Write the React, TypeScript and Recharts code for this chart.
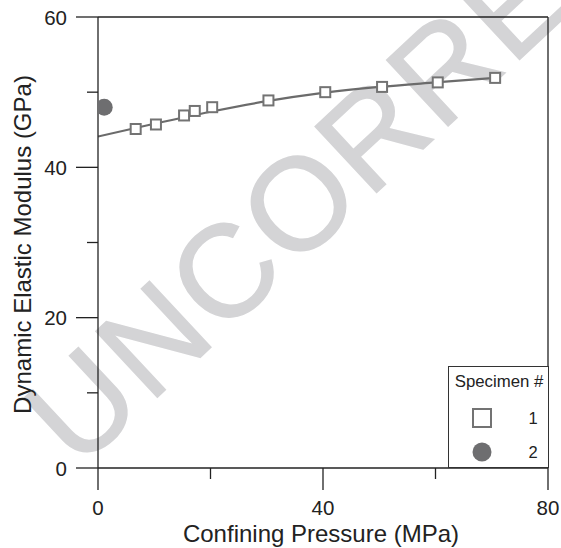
import React from 'react';
import { ComposedChart, Line, Scatter, XAxis, YAxis, Legend, ReferenceLine } from 'recharts';

// ---- data ----
const fitPressure = [0, 10, 20, 30, 40, 50, 60, 70.6];
const fitModulus = [44.1, 45.8, 47.4, 48.8, 49.9, 50.7, 51.3, 51.9];

const specimen1Pressure = [6.7, 10.3, 15.3, 17.2, 20.3, 30.3, 40.4, 50.5, 60.4, 70.6];
const specimen1Modulus = [45.1, 45.7, 46.9, 47.5, 48.0, 48.9, 50.0, 50.7, 51.3, 51.9];

const specimen2Pressure = [1.1];
const specimen2Modulus = [48.0];

const xTicks = [0, 20, 40, 60, 80];
const xLabeledTicks = [0, 40, 80];
const yTicks = [0, 10, 20, 30, 40, 50, 60];
const yLabeledTicks = [0, 20, 40, 60];

const specimenNames = ['1', '2'];
const legendTitle = 'Specimen #';
const xTitle = 'Confining Pressure (MPa)';
const yTitle = 'Dynamic Elastic Modulus (GPa)';
const watermarkText = 'UNCORRECTED PROOF';

// ---- derived tables ----
const fitData = fitPressure.map((p, i) => ({ p, e: fitModulus[i] }));
const spec1Data = specimen1Pressure.map((p, i) => ({ p, e: specimen1Modulus[i] }));
const spec2Data = specimen2Pressure.map((p, i) => ({ p, e: specimen2Modulus[i] }));

const FONT = '"Liberation Sans", Arial, Helvetica, sans-serif';
const AXIS = '#222';
const MARK = '#6e6e70';

const SquareShape = (props: any) => {
  const { cx, cy } = props;
  return <rect x={cx - 5} y={cy - 5} width={10} height={10} fill="#fff" stroke="#737373" strokeWidth={2} />;
};
const CircleShape = (props: any) => {
  const { cx, cy } = props;
  return <circle cx={cx} cy={cy} r={8.5} fill={MARK} />;
};

const XTick = (props: any) => {
  const { x, y, payload } = props;
  const v = payload.value;
  const major = xLabeledTicks.includes(v);
  return (
    <g>
      <line x1={x} y1={y} x2={x} y2={y + (major ? 22 : 11)} stroke={AXIS} strokeWidth={1.3} />
      {major && (
        <text x={x} y={y + 39} textAnchor="middle" dominantBaseline="central" fontSize={20.5} fill="#222" fontFamily={FONT}>
          {v}
        </text>
      )}
    </g>
  );
};

const YTick = (props: any) => {
  const { x, y, payload } = props;
  const v = payload.value;
  const major = yLabeledTicks.includes(v);
  return (
    <g>
      <line x1={x - (major ? 22 : 11)} y1={y} x2={x} y2={y} stroke={AXIS} strokeWidth={1.3} />
      {major && (
        <text x={x - 31} y={y} textAnchor="end" dominantBaseline="central" fontSize={20.5} fill="#222" fontFamily={FONT}>
          {v}
        </text>
      )}
    </g>
  );
};

const renderLegend = () => (
  <div style={{ width: 101, height: 102, boxSizing: 'border-box', border: '1.3px solid #333', background: '#fff' }}>
    <svg width={99} height={100} style={{ display: 'block' }}>
      <text x={50} y={14} textAnchor="middle" dominantBaseline="central" fontSize={16.8} fill="#222" fontFamily={FONT}>
        {legendTitle}
      </text>
      {specimenNames.map((name, i) => {
        const cy = 51 + i * 34;
        return (
          <g key={name}>
            {i === 0 ? (
              <rect x={24} y={cy - 9} width={18} height={18} fill="#fff" stroke="#737373" strokeWidth={2} />
            ) : (
              <circle cx={33} cy={cy} r={9.5} fill={MARK} />
            )}
            <text x={84} y={cy} textAnchor="middle" dominantBaseline="central" fontSize={16.5} fill="#222" fontFamily={FONT}>
              {name}
            </text>
          </g>
        );
      })}
    </svg>
  </div>
);

const YTitle = (props: any) => {
  const { viewBox } = props;
  const cx = viewBox.x + 22;
  const cy = viewBox.y + viewBox.height / 2 + 2;
  return (
    <text x={cx} y={cy} transform={`rotate(-90 ${cx} ${cy})`} textAnchor="middle" dominantBaseline="central" fontSize={24} fill="#222" fontFamily={FONT}>
      {yTitle}
    </text>
  );
};

const XTitle = (props: any) => {
  const { viewBox } = props;
  const cx = viewBox.x + viewBox.width / 2 - 2;
  const cy = viewBox.y + 65;
  return (
    <text x={cx} y={cy} textAnchor="middle" dominantBaseline="central" fontSize={24} fill="#222" fontFamily={FONT}>
      {xTitle}
    </text>
  );
};

export default function App() {
  return (
    <div style={{ position: 'absolute', left: 0, top: 0, width: 561, height: 548, background: '#fff' }}>
      <svg width={561} height={548} style={{ position: 'absolute', left: 0, top: 0 }}>
        <text
          x={78}
          y={471}
          transform="rotate(-43 78 471)"
          fontSize={131}
          fill="#d4d4d6"
          stroke="#d4d4d6"
          strokeWidth={1.5}
          letterSpacing={3}
          fontFamily={FONT}
        >
          {watermarkText}
        </text>
      </svg>
      <ComposedChart width={561} height={548} margin={{ top: 17, right: 13, left: 0, bottom: 0 }} style={{ fontFamily: FONT }}>
        <XAxis
          type="number"
          dataKey="p"
          domain={[0, 80]}
          ticks={xTicks}
          interval={0}
          height={80}
          tickSize={0}
          tickMargin={0}
          tickLine={false}
          tick={<XTick />}
          axisLine={{ stroke: AXIS, strokeWidth: 1.3 }}
          label={<XTitle />}
          allowDataOverflow
        />
        <YAxis
          type="number"
          dataKey="e"
          domain={[0, 60]}
          ticks={yTicks}
          interval={0}
          width={98}
          tickSize={0}
          tickMargin={0}
          tickLine={false}
          tick={<YTick />}
          axisLine={{ stroke: AXIS, strokeWidth: 1.3 }}
          label={<YTitle />}
          allowDataOverflow
        />
        <ReferenceLine y={60} stroke={AXIS} strokeWidth={1.3} ifOverflow="extendDomain" />
        <ReferenceLine x={80} stroke={AXIS} strokeWidth={1.3} ifOverflow="extendDomain" />
        <Legend
          layout="vertical"
          align="center"
          verticalAlign="middle"
          content={renderLegend}
          wrapperStyle={{ left: 448, top: 366, width: 101, height: 102 }}
        />
        <Line
          data={fitData}
          dataKey="e"
          type="monotone"
          stroke="#6b6b6b"
          strokeWidth={2.2}
          dot={false}
          activeDot={false}
          legendType="none"
          isAnimationActive={false}
        />
        <Scatter name={specimenNames[0]} data={spec1Data} dataKey="e" shape={<SquareShape />} isAnimationActive={false} />
        <Scatter name={specimenNames[1]} data={spec2Data} dataKey="e" shape={<CircleShape />} isAnimationActive={false} />
      </ComposedChart>
    </div>
  );
}
